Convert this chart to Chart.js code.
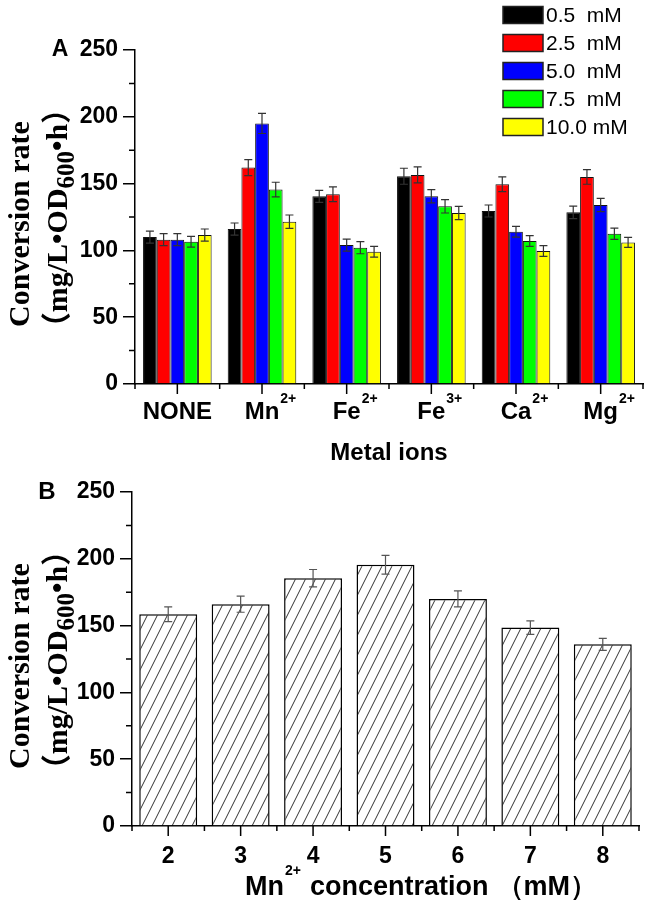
<!DOCTYPE html>
<html>
<head>
<meta charset="utf-8">
<title>Conversion rate vs metal ions</title>
<script src="https://cdn.jsdelivr.net/npm/chart.js@4.4.0/dist/chart.umd.min.js"></script>
<style>
    body { margin: 0; background: #fff; }
    .panel { position: absolute; left: 0; }
    #panelA { top: 0; }
    #panelB { top: 470px; }
</style>
</head>
<body>
<div class="panel" id="panelA"><canvas id="chartA" width="651" height="470"></canvas></div>
<div class="panel" id="panelB"><canvas id="chartB" width="651" height="434"></canvas></div>
<script>
// Panel A - metal ions
const ionNames = ['NONE', 'Mn', 'Fe', 'Fe', 'Ca', 'Mg'];
const ionCharges = ['', '2+', '2+', '3+', '2+', '2+'];
const seriesLabels = ['0.5  mM', '2.5  mM', '5.0  mM', '7.5  mM', '10.0 mM'];
const seriesColors = ['#000000', '#ff0000', '#0000ff', '#00ff00', '#ffff00'];

const rate05 = [110, 116, 140.5, 155.5, 129.5, 128.5];
const rate25 = [108, 162, 142, 156.5, 149.5, 155];
const rate50 = [108, 195, 104, 140.5, 114, 134];
const rate75 = [106.5, 145.5, 102, 133, 107, 112.5];
const rate100 = [111.5, 121.5, 99, 128, 99.5, 106];

const err05 = [4.5, 4.5, 4.5, 6, 4.5, 4.7];
const err25 = [4.5, 6, 5.5, 6, 5.5, 5.5];
const err50 = [4.5, 7.5, 4.5, 5, 4, 5];
const err75 = [4, 5.5, 4.5, 5, 4, 4.2];
const err100 = [4.5, 5, 4, 5, 4, 3.7];

// Panel B - Mn2+ concentration
const mnConc = ['2', '3', '4', '5', '6', '7', '8'];
const mnRate = [158.5, 166, 185.5, 195.5, 170, 148.5, 136];
const mnErr = [5.5, 6, 6.5, 7, 6, 5, 4.5];

// shared y axis
const yMin = 0;
const yMax = 250;
const yStep = 50;

const sansFont = '"Liberation Sans", Arial, sans-serif';
const serifFont = '"Liberation Serif", "Times New Roman", "Noto Sans CJK SC", serif';

Chart.defaults.font.family = sansFont;
Chart.defaults.color = '#000';

// diagonal hatch for panel B bars
function makeHatch() {
    const w = 10;
    const h = 20;
    const tile = document.createElement('canvas');
    tile.width = w;
    tile.height = h;
    const c = tile.getContext('2d');
    c.fillStyle = '#fff';
    c.fillRect(0, 0, w, h);
    c.strokeStyle = '#333';
    c.lineWidth = 1;
    for (let k = -1; k <= 1; k++) {
        c.beginPath();
        c.moveTo(k * w, h);
        c.lineTo(k * w + w, 0);
        c.stroke();
    }
    return c.createPattern(tile, 'repeat');
}

// text with a superscript after it; if centerBase the base text is centered on x
function drawSup(ctx, base, sup, x, baseline, size, supSize, rise, centerBase) {
    ctx.font = `bold ${size}px ${sansFont}`;
    const wBase = ctx.measureText(base).width;
    ctx.font = `bold ${supSize}px ${sansFont}`;
    const wSup = sup ? ctx.measureText(sup).width : 0;
    const left = centerBase ? x - wBase / 2 : x;
    ctx.textAlign = 'left';
    ctx.textBaseline = 'alphabetic';
    ctx.font = `bold ${size}px ${sansFont}`;
    ctx.fillText(base, left, baseline);
    if (sup) {
        ctx.font = `bold ${supSize}px ${sansFont}`;
        ctx.fillText(sup, left + wBase + 1, baseline - rise);
    }
    return wBase + wSup + 1;
}

// rotated two line y title with subscript 600
function drawYTitle(ctx, area) {
    const cy = (area.top + area.bottom) / 2;
    ctx.save();
    ctx.fillStyle = '#000';
    ctx.textBaseline = 'alphabetic';
    ctx.translate(29, cy + 7);
    ctx.rotate(-Math.PI / 2);
    ctx.textAlign = 'center';
    ctx.font = `bold 30px ${serifFont}`;
    ctx.fillText('Conversion rate', 0, 0);
    ctx.restore();

    const parts = [
        { t: '（mg/L•OD', size: 30, dy: 0 },
        { t: '600', size: 25, dy: 7 },
        { t: '•h）', size: 30, dy: 0 },
    ];
    ctx.save();
    ctx.fillStyle = '#000';
    ctx.textBaseline = 'alphabetic';
    ctx.textAlign = 'left';
    ctx.translate(67, cy + 1);
    ctx.rotate(-Math.PI / 2);
    let total = 0;
    parts.forEach((p) => {
        ctx.font = `bold ${p.size}px ${serifFont}`;
        p.w = ctx.measureText(p.t).width;
        total += p.w;
    });
    let x = -total / 2;
    parts.forEach((p) => {
        ctx.font = `bold ${p.size}px ${serifFont}`;
        ctx.fillText(p.t, x, p.dy);
        x += p.w;
    });
    ctx.restore();
}

// minor y ticks, x ticks at centers and boundaries
function drawAxisTicks(ctx, chart) {
    const { x, y } = chart.scales;
    const area = chart.chartArea;
    ctx.save();
    ctx.strokeStyle = '#000';
    ctx.lineWidth = 1.5;
    ctx.beginPath();
    for (let v = yMin + yStep / 2; v < yMax; v += yStep) {
        const py = y.getPixelForValue(v);
        ctx.moveTo(area.left - 6, py);
        ctx.lineTo(area.left, py);
    }
    const n = chart.data.labels.length;
    const cw = (area.right - area.left) / n;
    for (let i = 0; i <= n; i++) {
        const px = area.left + i * cw;
        ctx.moveTo(px, area.bottom);
        ctx.lineTo(px, area.bottom + 5);
    }
    for (let i = 0; i < n; i++) {
        const px = x.getPixelForValue(i);
        ctx.moveTo(px, area.bottom);
        ctx.lineTo(px, area.bottom + 10);
    }
    ctx.stroke();
    ctx.restore();
}

const errorBars = {
    id: 'errorBars',
    afterDatasetsDraw(chart, args, opts) {
        const { ctx } = chart;
        const y = chart.scales.y;
        ctx.save();
        ctx.strokeStyle = opts.color;
        ctx.lineWidth = 1.2;
        chart.data.datasets.forEach((ds, i) => {
            const meta = chart.getDatasetMeta(i);
            meta.data.forEach((bar, j) => {
                const top = y.getPixelForValue(ds.data[j] + ds.errors[j]);
                const bot = y.getPixelForValue(ds.data[j] - ds.errors[j]);
                const half = opts.cap / 2;
                ctx.beginPath();
                ctx.moveTo(bar.x, top);
                ctx.lineTo(bar.x, bot);
                ctx.moveTo(bar.x - half, top);
                ctx.lineTo(bar.x + half, top);
                ctx.moveTo(bar.x - half, bot);
                ctx.lineTo(bar.x + half, bot);
                ctx.stroke();
            });
        });
        ctx.restore();
    },
};

const decorA = {
    id: 'decorA',
    afterDraw(chart) {
        const { ctx } = chart;
        const area = chart.chartArea;
        drawAxisTicks(ctx, chart);
        drawYTitle(ctx, area);
        ctx.save();
        ctx.fillStyle = '#000';
        // category labels with charges
        ionNames.forEach((name, i) => {
            drawSup(ctx, name, ionCharges[i], chart.scales.x.getPixelForValue(i), 419, 24, 14, 16, true);
        });
        ctx.font = `bold 24px ${sansFont}`;
        ctx.textAlign = 'center';
        ctx.fillText('Metal ions', (area.left + area.right) / 2, 460);
        ctx.font = `bold 23px ${sansFont}`;
        ctx.textBaseline = 'middle';
        ctx.fillText('A', 60, 50);
        // legend
        chart.data.datasets.forEach((ds, i) => {
            const cy = 15 + i * 28;
            ctx.fillStyle = ds.backgroundColor;
            ctx.fillRect(503, cy - 8.5, 40, 17);
            ctx.strokeStyle = '#222';
            ctx.lineWidth = 1.5;
            ctx.strokeRect(503, cy - 8.5, 40, 17);
            ctx.fillStyle = '#000';
            ctx.font = `21px ${sansFont}`;
            ctx.textAlign = 'left';
            ctx.textBaseline = 'middle';
            ctx.fillText(ds.label, 546, cy + 1);
        });
        ctx.restore();
    },
};

const decorB = {
    id: 'decorB',
    afterDraw(chart) {
        const { ctx } = chart;
        const area = chart.chartArea;
        drawAxisTicks(ctx, chart);
        drawYTitle(ctx, area);
        ctx.save();
        ctx.fillStyle = '#000';
        ctx.font = `bold 23px ${sansFont}`;
        ctx.textAlign = 'center';
        ctx.textBaseline = 'alphabetic';
        mnConc.forEach((c, i) => {
            ctx.fillText(c, chart.scales.x.getPixelForValue(i), 393);
        });
        // axis title: Mn2+ concentration (mM)
        drawSup(ctx, 'Mn', '2+', 245, 425, 27, 14, 20, false);
        ctx.font = `bold 27px ${sansFont}`;
        ctx.textAlign = 'left';
        ctx.fillText('concentration', 310, 425);
        const wc = ctx.measureText('concentration').width;
        ctx.fillText('（mM）', 310 + wc + 8, 425);
        ctx.font = `bold 24px ${sansFont}`;
        ctx.textAlign = 'center';
        ctx.textBaseline = 'middle';
        ctx.fillText('B', 47, 22);
        ctx.restore();
    },
};

function yScale(width) {
    return {
        min: yMin,
        max: yMax,
        ticks: {
            stepSize: yStep,
            padding: 5,
            color: '#000',
            font: { family: sansFont, weight: 'bold', size: 23 },
        },
        grid: { drawOnChartArea: false, tickLength: 12, color: '#000', lineWidth: 1.5 },
        border: { display: true, color: '#000', width: 1.5 },
        afterFit(scale) { scale.width = width; },
    };
}

function xScale(height) {
    return {
        offset: true,
        ticks: { display: false },
        grid: { display: false },
        border: { display: true, color: '#000', width: 1.5 },
        afterFit(scale) { scale.height = height; },
    };
}

const rateSeries = [rate05, rate25, rate50, rate75, rate100];
const errSeries = [err05, err25, err50, err75, err100];

new Chart(document.getElementById('chartA').getContext('2d'), {
    type: 'bar',
    data: {
        labels: ionNames,
        datasets: rateSeries.map((d, i) => ({
            label: seriesLabels[i],
            data: d,
            errors: errSeries[i],
            backgroundColor: seriesColors[i],
            borderColor: '#111',
            borderWidth: 1,
            categoryPercentage: 0.81,
            barPercentage: 1.0,
        })),
    },
    options: {
        responsive: false,
        animation: false,
        layout: { padding: { top: 50, right: 8, left: 0, bottom: 0 } },
        scales: { x: xScale(86), y: yScale(135) },
        plugins: {
            legend: { display: false },
            tooltip: { enabled: false },
            errorBars: { color: '#333', cap: 8 },
        },
    },
    plugins: [errorBars, decorA],
});

new Chart(document.getElementById('chartB').getContext('2d'), {
    type: 'bar',
    data: {
        labels: mnConc,
        datasets: [{
            label: 'Mn2+',
            data: mnRate,
            errors: mnErr,
            backgroundColor: makeHatch(),
            borderColor: '#000',
            borderWidth: 1.5,
            categoryPercentage: 0.8,
            barPercentage: 1.0,
        }],
    },
    options: {
        responsive: false,
        animation: false,
        layout: { padding: { top: 22, right: 12, left: 0, bottom: 0 } },
        scales: { x: xScale(78), y: yScale(132) },
        plugins: {
            legend: { display: false },
            tooltip: { enabled: false },
            errorBars: { color: '#555', cap: 8 },
        },
    },
    plugins: [errorBars, decorB],
});
</script>
</body>
</html>
